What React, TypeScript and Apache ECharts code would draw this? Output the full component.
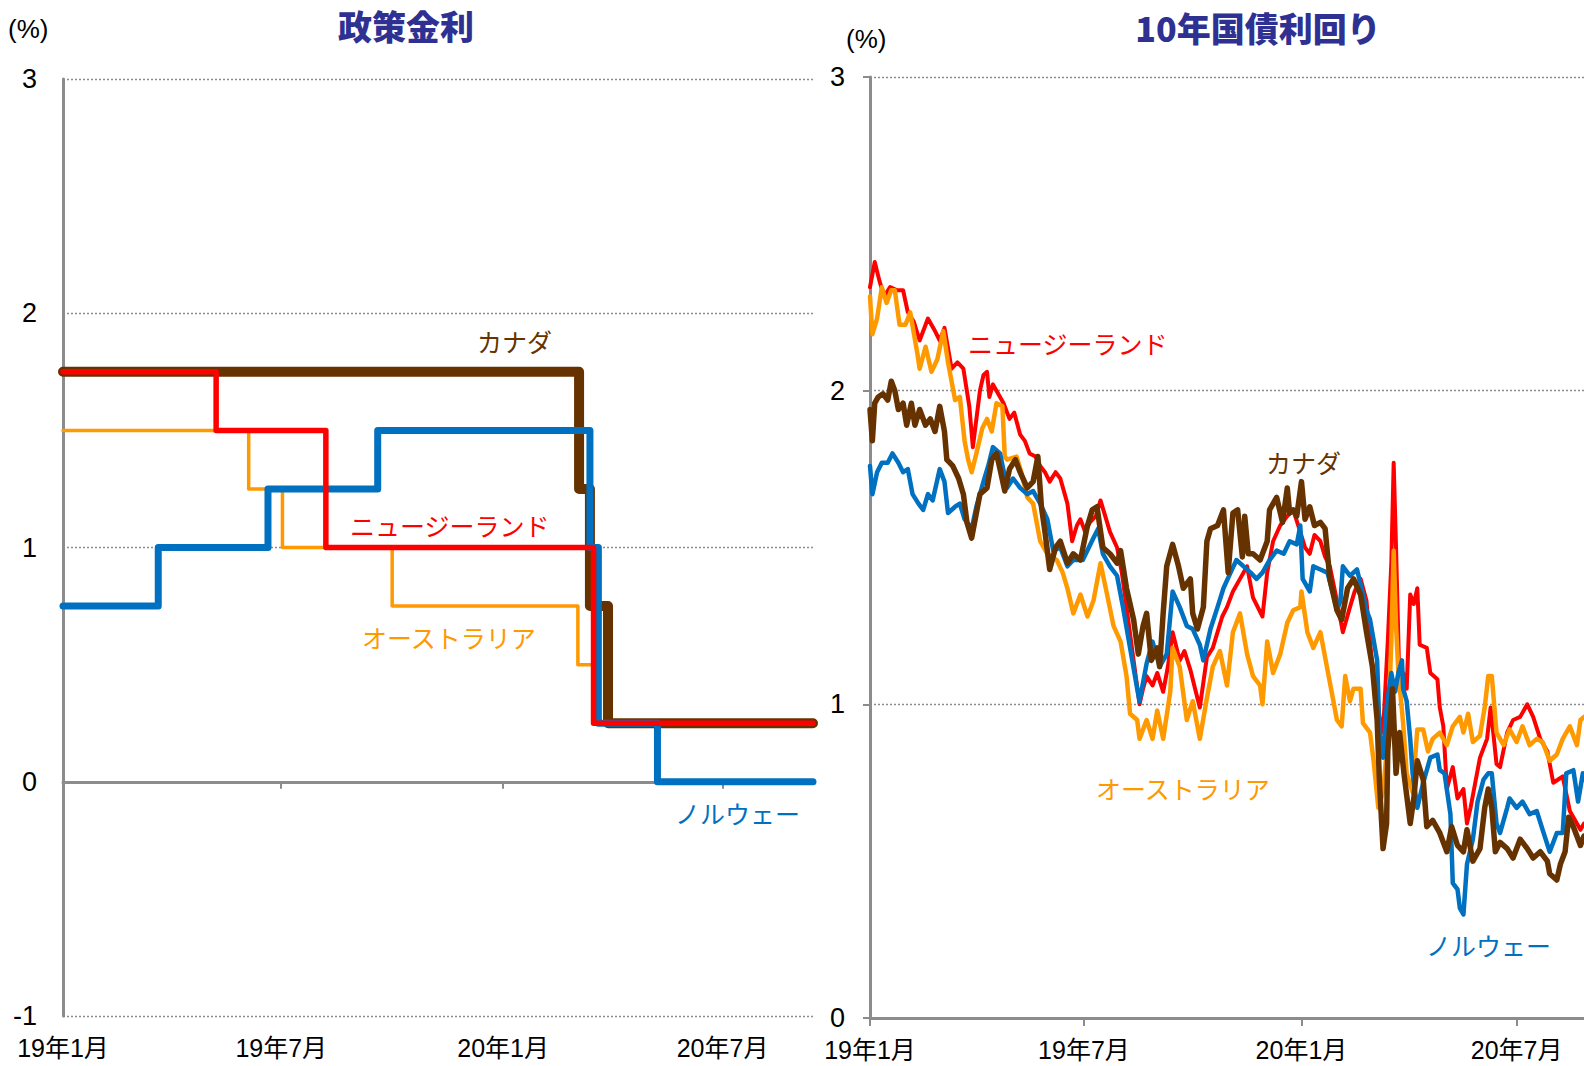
import React, { useEffect, useRef } from "react";
import * as echarts from "echarts";

// ---------- axis ticks ----------
const tickDays = [0, 181, 365, 547]; // days since 2019-01-01
const tickLabels = ["19年1月", "19年7月", "20年1月", "20年7月"];
const yTicksLeft = [-1, 0, 1, 2, 3];
const yTicksRight = [0, 1, 2, 3];

// ---------- policy rates (change dates) ----------
const canadaPolicy: [string, number][] = [
  ["2019-01-01", 1.75], ["2020-03-04", 1.25], ["2020-03-13", 0.75], ["2020-03-28", 0.25], ["2020-09-14", 0.25],
];
const nzPolicy: [string, number][] = [
  ["2019-01-01", 1.75], ["2019-05-08", 1.5], ["2019-08-07", 1.0], ["2020-03-16", 0.25], ["2020-09-14", 0.25],
];
const ausPolicy: [string, number][] = [
  ["2019-01-01", 1.5], ["2019-06-04", 1.25], ["2019-07-02", 1.0], ["2019-10-01", 0.75], ["2020-03-03", 0.5], ["2020-03-19", 0.25], ["2020-09-14", 0.25],
];
const norPolicy: [string, number][] = [
  ["2019-01-01", 0.75], ["2019-03-21", 1.0], ["2019-06-20", 1.25], ["2019-09-19", 1.5], ["2020-03-13", 1.0], ["2020-03-20", 0.25], ["2020-05-08", 0.0], ["2020-09-14", 0.0],
];

// ---------- 10y yields: [days since 2019-01-01, %] ----------
const nzYield: [number, number][] = [
  [0,2.33],[2,2.37],[4,2.41],[8,2.35],[12,2.30],[17,2.33],[23,2.32],[28,2.32],[32,2.25],[37,2.22],[42,2.16],[49,2.23],[55,2.19],[59,2.16],[63,2.20],[69,2.07],[74,2.09],[79,2.07],[84,1.95],[87,1.82],[93,2.00],[96,2.05],[99,2.06],[101,1.98],[104,2.02],[113,1.96],[118,1.91],[122,1.93],[127,1.86],[131,1.84],[135,1.80],[140,1.79],[144,1.76],[148,1.74],[152,1.71],[157,1.74],[161,1.72],[167,1.64],[171,1.52],[175,1.57],[178,1.59],[182,1.55],[186,1.58],[191,1.60],[195,1.65],[199,1.60],[203,1.55],[209,1.50],[213,1.42],[217,1.31],[223,1.14],[228,1.00],[231,1.05],[234,1.09],[239,1.06],[243,1.10],[248,1.04],[252,1.12],[256,1.23],[262,1.14],[266,1.17],[271,1.11],[275,1.05],[279,0.99],[285,1.15],[290,1.18],[294,1.23],[298,1.28],[302,1.31],[307,1.36],[313,1.40],[319,1.44],[324,1.34],[332,1.28],[336,1.42],[341,1.52],[347,1.57],[353,1.60],[358,1.62],[364,1.55],[368,1.50],[372,1.48],[376,1.54],[381,1.52],[385,1.47],[389,1.44],[395,1.33],[400,1.23],[406,1.31],[410,1.36],[415,1.40],[420,1.33],[423,1.20],[426,1.08],[431,0.96],[434,0.91],[438,1.20],[441,1.45],[443,1.77],[445,1.50],[447,1.20],[448,1.04],[451,1.10],[454,1.05],[457,1.35],[460,1.32],[463,1.37],[465,1.19],[471,1.18],[474,1.10],[480,1.08],[482,0.99],[485,0.93],[488,0.73],[493,0.80],[497,0.70],[502,0.73],[505,0.62],[508,0.67],[512,0.75],[516,0.83],[522,0.89],[525,0.99],[530,0.81],[533,0.80],[539,0.91],[544,0.95],[550,0.96],[556,1.00],[561,0.96],[567,0.89],[573,0.85],[578,0.75],[586,0.77],[592,0.66],[601,0.60],[604,0.62],
];
const ausYield: [number, number][] = [
  [0,2.30],[2,2.18],[6,2.23],[10,2.33],[14,2.28],[18,2.32],[21,2.32],[25,2.21],[30,2.21],[34,2.25],[40,2.12],[42,2.07],[47,2.14],[52,2.06],[57,2.10],[62,2.19],[66,2.09],[72,1.97],[76,1.98],[80,1.84],[83,1.78],[86,1.74],[90,1.80],[95,1.88],[99,1.91],[103,1.87],[107,1.96],[112,1.95],[114,1.79],[116,1.78],[124,1.79],[128,1.74],[133,1.66],[138,1.64],[144,1.52],[150,1.48],[158,1.46],[163,1.42],[167,1.37],[172,1.29],[178,1.35],[184,1.28],[189,1.33],[195,1.45],[200,1.36],[206,1.25],[212,1.20],[217,1.09],[220,0.97],[226,0.95],[228,0.89],[234,0.95],[239,0.89],[243,0.98],[248,0.89],[254,1.04],[256,1.18],[262,1.12],[268,0.95],[273,1.01],[279,0.89],[285,1.02],[290,1.12],[296,1.17],[302,1.06],[307,1.23],[313,1.29],[319,1.16],[324,1.09],[330,1.06],[332,1.00],[336,1.20],[341,1.10],[347,1.16],[353,1.26],[358,1.30],[364,1.31],[365,1.36],[370,1.23],[375,1.18],[381,1.23],[387,1.11],[392,1.01],[395,0.95],[399,0.93],[402,1.09],[406,1.01],[409,1.05],[415,1.05],[417,0.94],[423,0.91],[426,0.82],[430,0.67],[434,0.72],[438,0.89],[441,1.20],[443,1.49],[445,1.25],[447,1.10],[451,0.94],[454,0.78],[459,0.72],[463,0.92],[468,0.92],[472,0.85],[476,0.89],[482,0.91],[488,0.87],[493,0.93],[499,0.96],[502,0.91],[506,0.97],[510,0.88],[516,0.90],[520,0.99],[523,1.09],[526,1.09],[530,0.91],[536,0.87],[541,0.92],[547,0.88],[552,0.93],[558,0.87],[564,0.89],[569,0.88],[575,0.82],[581,0.84],[586,0.89],[592,0.93],[598,0.87],[601,0.95],[604,0.96],
];
const norYield: [number, number][] = [
  [0,1.76],[2,1.67],[6,1.74],[10,1.77],[15,1.77],[19,1.80],[24,1.77],[28,1.74],[32,1.75],[36,1.67],[41,1.64],[45,1.62],[49,1.67],[53,1.65],[59,1.75],[63,1.71],[66,1.61],[72,1.63],[76,1.64],[80,1.59],[86,1.56],[90,1.63],[96,1.71],[100,1.76],[104,1.82],[110,1.80],[116,1.69],[121,1.72],[127,1.69],[133,1.67],[138,1.68],[144,1.64],[150,1.59],[155,1.49],[161,1.50],[167,1.44],[172,1.46],[180,1.46],[189,1.53],[193,1.56],[197,1.48],[203,1.44],[209,1.41],[214,1.31],[220,1.18],[226,1.05],[228,1.01],[234,1.13],[239,1.20],[245,1.12],[251,1.16],[256,1.36],[262,1.31],[268,1.25],[273,1.24],[279,1.19],[282,1.14],[288,1.24],[294,1.31],[299,1.37],[305,1.42],[310,1.46],[316,1.44],[322,1.42],[327,1.40],[332,1.42],[338,1.46],[344,1.49],[350,1.48],[355,1.52],[361,1.51],[364,1.57],[366,1.40],[372,1.36],[375,1.44],[381,1.43],[387,1.42],[392,1.35],[395,1.30],[398,1.33],[400,1.44],[406,1.41],[412,1.43],[417,1.35],[420,1.30],[423,1.27],[429,1.14],[431,0.91],[434,0.83],[437,0.99],[441,1.10],[444,1.04],[447,1.10],[450,1.14],[451,1.05],[454,1.01],[457,0.89],[459,0.78],[463,0.67],[468,0.75],[474,0.83],[480,0.84],[482,0.79],[486,0.78],[491,0.65],[493,0.43],[497,0.41],[499,0.35],[502,0.33],[505,0.49],[510,0.57],[514,0.69],[519,0.76],[523,0.78],[526,0.78],[530,0.62],[533,0.59],[539,0.67],[541,0.70],[547,0.67],[552,0.69],[558,0.65],[564,0.66],[569,0.60],[575,0.53],[581,0.59],[586,0.59],[589,0.78],[595,0.79],[599,0.69],[603,0.78],[604,0.76],
];
const canYield: [number, number][] = [
  [0,1.94],[2,1.84],[4,1.96],[7,1.98],[11,1.99],[15,1.97],[18,2.03],[21,2.00],[24,1.94],[28,1.96],[31,1.89],[35,1.96],[38,1.89],[42,1.94],[47,1.89],[51,1.91],[55,1.87],[59,1.95],[63,1.87],[65,1.78],[70,1.76],[75,1.72],[79,1.67],[82,1.58],[86,1.53],[90,1.61],[93,1.67],[99,1.69],[103,1.78],[107,1.80],[110,1.75],[114,1.68],[118,1.75],[123,1.78],[127,1.74],[133,1.69],[138,1.71],[142,1.79],[145,1.63],[148,1.55],[152,1.43],[157,1.50],[161,1.52],[167,1.45],[172,1.48],[178,1.46],[184,1.57],[188,1.62],[192,1.63],[197,1.50],[203,1.48],[209,1.45],[212,1.49],[217,1.37],[223,1.27],[227,1.16],[231,1.25],[234,1.29],[238,1.14],[243,1.18],[245,1.12],[248,1.29],[251,1.44],[256,1.51],[261,1.44],[265,1.37],[271,1.40],[273,1.29],[277,1.24],[282,1.31],[285,1.52],[288,1.56],[294,1.57],[299,1.62],[303,1.42],[307,1.61],[311,1.62],[315,1.47],[317,1.60],[320,1.48],[324,1.48],[330,1.46],[336,1.52],[338,1.62],[344,1.66],[349,1.58],[353,1.69],[355,1.61],[358,1.62],[361,1.60],[365,1.71],[368,1.59],[372,1.63],[376,1.57],[381,1.58],[385,1.56],[389,1.40],[395,1.30],[399,1.27],[404,1.37],[409,1.40],[415,1.35],[420,1.23],[425,1.12],[429,0.95],[431,0.75],[434,0.54],[437,0.62],[438,0.85],[442,1.05],[445,0.78],[448,0.91],[452,0.77],[457,0.62],[460,0.70],[463,0.82],[468,0.76],[471,0.61],[476,0.63],[482,0.59],[488,0.53],[492,0.61],[497,0.55],[502,0.53],[505,0.60],[510,0.50],[516,0.54],[520,0.67],[523,0.73],[526,0.67],[529,0.53],[533,0.56],[539,0.54],[544,0.51],[550,0.57],[556,0.54],[561,0.51],[567,0.53],[573,0.50],[575,0.46],[581,0.44],[584,0.49],[588,0.53],[591,0.64],[595,0.61],[601,0.55],[604,0.58],
];

const C_CAN = "#663300";
const C_NZ = "#FF0000";
const C_AUS = "#FF9900";
const C_NOR = "#0070C0";
const AXIS_GRAY = "#8C8C8C";
const TITLE_COLOR = "#2E3192";
const LATIN = "'Liberation Sans', Arial, 'Noto Sans CJK JP', sans-serif";
const JP = "'Noto Sans CJK JP', sans-serif";

const START = Date.UTC(2019, 0, 1);
function dayOf(s: string): number {
  const [y, m, d] = s.split("-").map(Number);
  return Math.round((Date.UTC(y, m - 1, d) - START) / 86400000);
}
const toDays = (arr: [string, number][]) => arr.map(([d, v]) => [dayOf(d), v]);

const LEFT_MAX = 622;
const RIGHT_MAX = 604;

function tickFmt(v: number): string {
  const i = tickDays.indexOf(Math.round(v));
  return i >= 0 ? tickLabels[i] : "";
}

export default function App() {
  const ref = useRef<HTMLDivElement>(null);
  useEffect(() => {
    if (!ref.current) return;
    const chart = echarts.init(ref.current, undefined, { renderer: "svg" });
    const splitLine = { show: true, lineStyle: { color: "#8C8C8C", type: [2, 2] as any, width: 1.3 } };
    const labelStyle = { fontSize: 25, color: "#000", fontFamily: LATIN };

    const leftStep = (name: string, data: any, color: string, width: number) => ({
      name, type: "line", step: "end", xAxisIndex: 0, yAxisIndex: 0, data,
      symbol: "none", silent: true,
      lineStyle: { color, width, cap: "round", join: "round" },
    });
    const rightLine = (name: string, data: any, color: string, width: number) => ({
      name, type: "line", xAxisIndex: 2, yAxisIndex: 1, data,
      symbol: "none", silent: true,
      lineStyle: { color, width, join: "round", cap: "round" },
    });

    const txt = (text: string, x: number, y: number, color: string, size: number, align = "left", bold = false, family = JP) => ({
      type: "text", x, y,
      style: { text, fill: color, font: `${bold ? "900 " : ""}${size}px ${family}`, textAlign: align, textVerticalAlign: "middle" },
    });

    chart.setOption({
      animation: false,
      backgroundColor: "#fff",
      grid: [
        { left: 63, top: 79, width: 750, height: 937 },
        { left: 870, top: 77, width: 714, height: 941 },
      ],
      xAxis: [
        {
          gridIndex: 0, type: "value", min: 0, max: LEFT_MAX, position: "bottom",
          axisLine: { show: false, onZero: false }, axisTick: { show: false }, splitLine: { show: false },
          axisLabel: { ...labelStyle, margin: 19, customValues: tickDays, formatter: tickFmt },
        },
        {
          gridIndex: 0, type: "value", min: 0, max: LEFT_MAX, position: "top",
          axisLine: { show: true, onZero: true, lineStyle: { color: AXIS_GRAY, width: 3 } },
          axisTick: { show: true, inside: true, length: 7, customValues: tickDays.slice(1), lineStyle: { color: AXIS_GRAY, width: 2 } },
          axisLabel: { show: false }, splitLine: { show: false },
        },
        {
          gridIndex: 1, type: "value", min: 0, max: RIGHT_MAX, position: "bottom",
          axisLine: { show: true, onZero: true, lineStyle: { color: AXIS_GRAY, width: 3 } },
          axisTick: { show: true, length: 8, customValues: tickDays, lineStyle: { color: AXIS_GRAY, width: 2 } },
          axisLabel: { ...labelStyle, margin: 19, customValues: tickDays, formatter: tickFmt },
          splitLine: { show: false },
        },
      ],
      yAxis: [
        {
          gridIndex: 0, type: "value", min: yTicksLeft[0], max: yTicksLeft[yTicksLeft.length - 1], interval: 1,
          axisLine: { show: true, onZero: false, lineStyle: { color: AXIS_GRAY, width: 3 } },
          axisTick: { show: false },
          axisLabel: { ...labelStyle, fontSize: 27, margin: 26 },
          splitLine,
        },
        {
          gridIndex: 1, type: "value", min: yTicksRight[0], max: yTicksRight[yTicksRight.length - 1], interval: 1,
          axisLine: { show: true, onZero: false, lineStyle: { color: AXIS_GRAY, width: 3 } },
          axisTick: { show: true, length: 7, lineStyle: { color: AXIS_GRAY, width: 2 } },
          axisLabel: { ...labelStyle, fontSize: 27, margin: 25 },
          splitLine,
        },
      ],
      series: [
        leftStep("カナダ", toDays(canadaPolicy), C_CAN, 10),
        leftStep("オーストラリア", toDays(ausPolicy), C_AUS, 3.5),
        leftStep("ノルウェー", toDays(norPolicy), C_NOR, 7),
        leftStep("ニュージーランド", toDays(nzPolicy), C_NZ, 5.5),
        rightLine("ニュージーランド", nzYield, C_NZ, 4),
        rightLine("オーストラリア", ausYield, C_AUS, 4.5),
        rightLine("ノルウェー", norYield, C_NOR, 4.5),
        rightLine("カナダ", canYield, C_CAN, 5.5),
      ],
      graphic: [
        txt("政策金利", 406, 25, TITLE_COLOR, 34, "center", true),
        txt("10年国債利回り", 1258, 27, TITLE_COLOR, 34, "center", true),
        txt("(%)", 8, 29, "#000", 26, "left", false, LATIN),
        txt("(%)", 846, 39, "#000", 26, "left", false, LATIN),
        txt("カナダ", 477, 341, C_CAN, 25),
        txt("ニュージーランド", 350, 525, C_NZ, 25),
        txt("オーストラリア", 362, 637, C_AUS, 25),
        txt("ノルウェー", 675, 813, C_NOR, 25),
        txt("ニュージーランド", 968, 343, C_NZ, 25),
        txt("カナダ", 1266, 462, C_CAN, 25),
        txt("オーストラリア", 1096, 788, C_AUS, 25),
        txt("ノルウェー", 1426, 945, C_NOR, 25),
      ],
    });
    return () => chart.dispose();
  }, []);
  return <div ref={ref} style={{ position: "absolute", left: 0, top: 0, width: 1584, height: 1066 }} />;
}
